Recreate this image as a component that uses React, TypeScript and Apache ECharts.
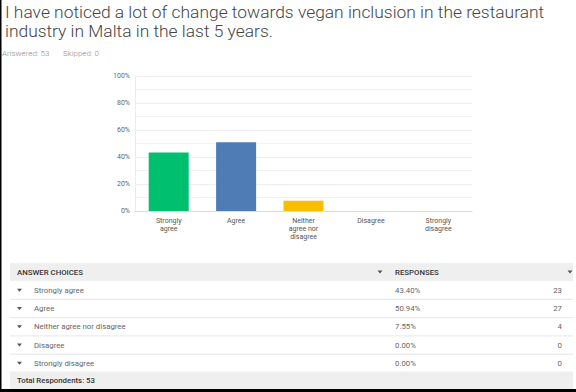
import React, { useEffect, useRef } from "react";
import * as echarts from "echarts";

const titleLines = [
  "I have noticed a lot of change towards vegan inclusion in the restaurant",
  "industry in Malta in the last 5 years.",
];
const answered = 53;
const skipped = 0;
const totalRespondents = 53;

const categories = [
  "Strongly agree",
  "Agree",
  "Neither agree nor disagree",
  "Disagree",
  "Strongly disagree",
];
const axisLabels = [
  "Strongly\nagree",
  "Agree",
  "Neither\nagree nor\ndisagree",
  "Disagree",
  "Strongly\ndisagree",
];
const percentages = [43.4, 50.94, 7.55, 0, 0];
const percentLabels = ["43.40%", "50.94%", "7.55%", "0.00%", "0.00%"];
const counts = [23, 27, 4, 0, 0];
const barColors = ["#00BF6F", "#507CB6", "#F9BE00", "#6BC8CD", "#FF8B4F"];

const FONT = "Roboto, 'Noto Sans', sans-serif";

export default function App() {
  const ref = useRef<HTMLDivElement>(null);

  useEffect(() => {
    if (!ref.current) return;
    const chart = echarts.init(ref.current, undefined, { renderer: "svg" });

    const tableLeft = 10;
    const tableRight = 573;
    const headerTop = 263;
    const headerH = 18;
    const rowH = 18.3;
    const rowsTop = headerTop + headerH;

    const graphics: any[] = [];
    graphics.push({
      type: "text",
      left: 2,
      top: 49,
      style: {
        text: `Answered: ${answered}`,
        fill: "#8a8a8a",
        font: `300 8px ${FONT}`,
      },
    });
    graphics.push({
      type: "text",
      left: 63,
      top: 49,
      style: {
        text: `Skipped: ${skipped}`,
        fill: "#8a8a8a",
        font: `300 8px ${FONT}`,
      },
    });
    graphics.push({
      type: "rect",
      shape: { x: tableLeft, y: headerTop, width: tableRight - tableLeft, height: headerH },
      style: { fill: "#efefef" },
    });
    graphics.push({
      type: "text",
      x: 17,
      y: headerTop + headerH / 2,
      style: {
        text: "ANSWER CHOICES",
        fill: "#333",
        font: `500 7.8px ${FONT}`,
        textVerticalAlign: "middle",
      },
    });
    graphics.push({
      type: "text",
      x: 395,
      y: headerTop + headerH / 2,
      style: {
        text: "RESPONSES",
        fill: "#333",
        font: `500 7.8px ${FONT}`,
        textVerticalAlign: "middle",
      },
    });
    [380, 570].forEach((ax) => {
      graphics.push({
        type: "polygon",
        shape: {
          points: [
            [ax - 2.5, headerTop + headerH / 2 - 1.5],
            [ax + 2.5, headerTop + headerH / 2 - 1.5],
            [ax, headerTop + headerH / 2 + 1.5],
          ],
        },
        style: { fill: "#555" },
      });
    });
    categories.forEach((c, i) => {
      const cy = rowsTop + rowH * i + rowH / 2;
      if (i > 0) {
        graphics.push({
          type: "line",
          shape: { x1: tableLeft, y1: rowsTop + rowH * i, x2: tableRight, y2: rowsTop + rowH * i },
          style: { stroke: "#e6e6e6", lineWidth: 1 },
        });
      }
      graphics.push({
        type: "polygon",
        shape: {
          points: [
            [17, cy - 1.5],
            [22, cy - 1.5],
            [19.5, cy + 1.5],
          ],
        },
        style: { fill: "#555" },
      });
      graphics.push({
        type: "text",
        x: 34,
        y: cy,
        style: {
          text: c,
          fill: "#666",
          font: `400 7.8px ${FONT}`,
          textVerticalAlign: "middle",
        },
      });
      graphics.push({
        type: "text",
        x: 395,
        y: cy,
        style: {
          text: percentLabels[i],
          fill: "#666",
          font: `400 7.8px ${FONT}`,
          textVerticalAlign: "middle",
        },
      });
      graphics.push({
        type: "text",
        x: 562,
        y: cy,
        style: {
          text: String(counts[i]),
          fill: "#666",
          font: `400 7.8px ${FONT}`,
          textAlign: "right",
          textVerticalAlign: "middle",
        },
      });
    });
    const totalTop = rowsTop + rowH * categories.length - 1;
    graphics.push({
      type: "rect",
      shape: { x: tableLeft, y: totalTop, width: tableRight - tableLeft, height: 389 - totalTop },
      style: { fill: "#efefef" },
    });
    graphics.push({
      type: "text",
      x: 17,
      y: (totalTop + 389) / 2,
      style: {
        text: `Total Respondents: ${totalRespondents}`,
        fill: "#333",
        font: `500 7.8px ${FONT}`,
        textVerticalAlign: "middle",
      },
    });
    graphics.push({
      type: "rect",
      shape: { x: 0, y: 0, width: 1.5, height: 392 },
      style: { fill: "#000" },
    });
    graphics.push({
      type: "rect",
      shape: { x: 0, y: 389, width: 576, height: 3 },
      style: { fill: "#000" },
    });

    chart.setOption({
      animation: false,
      backgroundColor: "#fff",
      title: {
        text: titleLines.join("\n"),
        left: 0,
        top: -3,
        textStyle: {
          fontFamily: FONT,
          fontWeight: 300,
          fontSize: 17.4,
          lineHeight: 19,
          color: "#444",
        },
      },
      grid: { left: 135, right: 104, top: 76, bottom: 181 },
      xAxis: {
        type: "category",
        data: categories,
        axisTick: { show: false },
        axisLine: { lineStyle: { color: "#dcdcdc" } },
        axisLabel: {
          interval: 0,
          fontFamily: FONT,
          fontSize: 7,
          lineHeight: 8,
          color: "#555",
          margin: 6,
          formatter: (_v: string, i: number) => axisLabels[i],
        },
      },
      yAxis: {
        type: "value",
        min: 0,
        max: 100,
        interval: 20,
        axisLine: { show: true, lineStyle: { color: "#ececec" } },
        axisTick: { show: false },
        axisLabel: {
          fontFamily: FONT,
          fontSize: 7,
          color: "#666",
          margin: 5,
          formatter: (v: number) => `${v}%`,
        },
        splitLine: { lineStyle: { color: "#eeeeee" } },
        minorTick: { show: false, splitNumber: 2 },
        minorSplitLine: { show: true, lineStyle: { color: "#f2f2f2" } },
      },
      series: [
        {
          type: "bar",
          barWidth: 40,
          data: percentages.map((v, i) => ({ value: v, itemStyle: { color: barColors[i] } })),
        },
      ],
      graphic: graphics,
    });

    return () => chart.dispose();
  }, []);

  return (
    <div
      ref={ref}
      style={{ position: "fixed", left: 0, top: 0, width: 576, height: 392 }}
    />
  );
}
